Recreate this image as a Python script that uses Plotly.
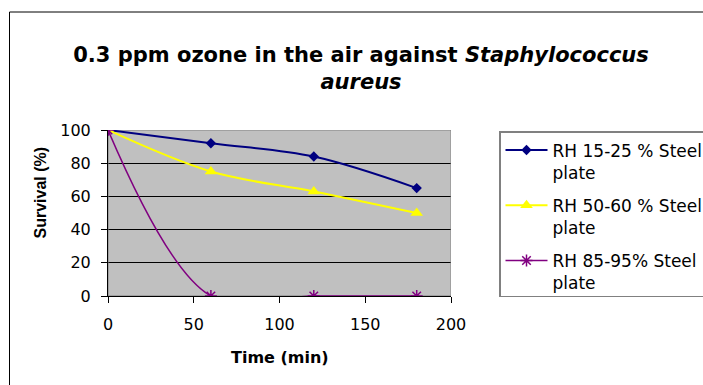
import plotly.graph_objects as go

# Exposure time (min) and survival (%) for each relative-humidity condition
time_min = [0, 60, 120, 180]
rh_15_25 = [100, 92, 84, 65]
rh_50_60 = [100, 75, 63, 50]
rh_85_95 = [100, 0, 0, 0]

series_names = [
    "RH 15-25 % Steel<br>plate",
    "RH 50-60 % Steel<br>plate",
    "RH 85-95% Steel<br>plate",
]

W, H = 703, 385
L, R, T, B = 108, 451, 130, 296   # plot-area pixel box
PW, PH = R - L, B - T


def px_x(px):
    return (px - L) / PW


def px_y(py):
    return (B - py) / PH


TXT = "DejaVu Sans"

fig = go.Figure()

fig.add_trace(go.Scatter(
    x=time_min, y=rh_15_25, name=series_names[0], legendgroup="a",
    mode="lines+markers", line=dict(color="#000080", width=2, shape="spline"),
    marker=dict(symbol="diamond", size=8, color="#000080"),
))
fig.add_trace(go.Scatter(
    x=time_min, y=rh_50_60, name=series_names[1], legendgroup="b",
    mode="lines+markers", line=dict(color="#FFFF00", width=2, shape="spline"),
    marker=dict(symbol="triangle-up", size=11, color="#FFFF00"),
))
fig.add_trace(go.Scatter(
    x=time_min, y=rh_85_95, name=series_names[2], legendgroup="c",
    mode="lines+markers", line=dict(color="#800080", width=1.5, shape="spline"),
    marker=dict(symbol="asterisk-open", size=10,
                line=dict(color="#800080", width=1.5)),
))

axis_common = dict(
    showline=True, linecolor="black", linewidth=1,
    ticks="outside", ticklen=6, tickcolor="black", tickwidth=1,
    tickfont=dict(family=TXT, size=16, color="black"),
    zeroline=False,
)

fig.update_xaxes(range=[0, 200], dtick=50, tick0=0, showgrid=False,
                 ticklabelstandoff=8, **axis_common)
fig.update_yaxes(range=[0, 100], dtick=20, tick0=0, showgrid=True,
                 gridcolor="black", gridwidth=1, ticklabelstandoff=7,
                 **axis_common)

# plot-area frame and outer chart border
fig.add_shape(type="rect", xref="x", yref="y", x0=0, x1=200, y0=0, y1=100,
              line=dict(color="#808080", width=1), layer="between")
fig.add_shape(type="rect", xref="paper", yref="paper",
              x0=px_x(9.5), x1=px_x(760), y0=px_y(12), y1=px_y(440),
              line=dict(color="black", width=1))

# axis titles
fig.add_annotation(text="<b>Time (min)</b>", xref="paper", yref="paper",
                   x=0.5, y=px_y(357), xanchor="center", yanchor="middle",
                   showarrow=False, font=dict(family=TXT, size=16, color="black"))
fig.add_annotation(text="<b>Survival (%)</b>", xref="paper", yref="paper",
                   x=px_x(40), y=px_y(192.5), xanchor="center", yanchor="middle",
                   textangle=-90, showarrow=False,
                   font=dict(family="Liberation Sans", size=16, color="black"))

fig.update_layout(
    width=W, height=H,
    margin=dict(l=L, r=W - R, t=T, b=H - B, pad=0, autoexpand=False),
    paper_bgcolor="white", plot_bgcolor="#C0C0C0",
    title=dict(
        text="<b>0.3 ppm ozone in the air against <i>Staphylococcus</i><br><i>aureus</i></b>",
        x=361 / W, xanchor="center", xref="container",
        y=1 - 62 / H, yanchor="top", yref="container",
        font=dict(family=TXT, size=21, color="black"),
    ),
    legend=dict(
        x=px_x(499), y=px_y(131), xanchor="left", yanchor="top",
        bgcolor="white", bordercolor="#808080", borderwidth=1.5,
        font=dict(family=TXT, size=17, color="black"),
        itemwidth=42, valign="top", tracegroupgap=8, traceorder="grouped",
    ),
    showlegend=True,
)

fig.write_html("out.html")
